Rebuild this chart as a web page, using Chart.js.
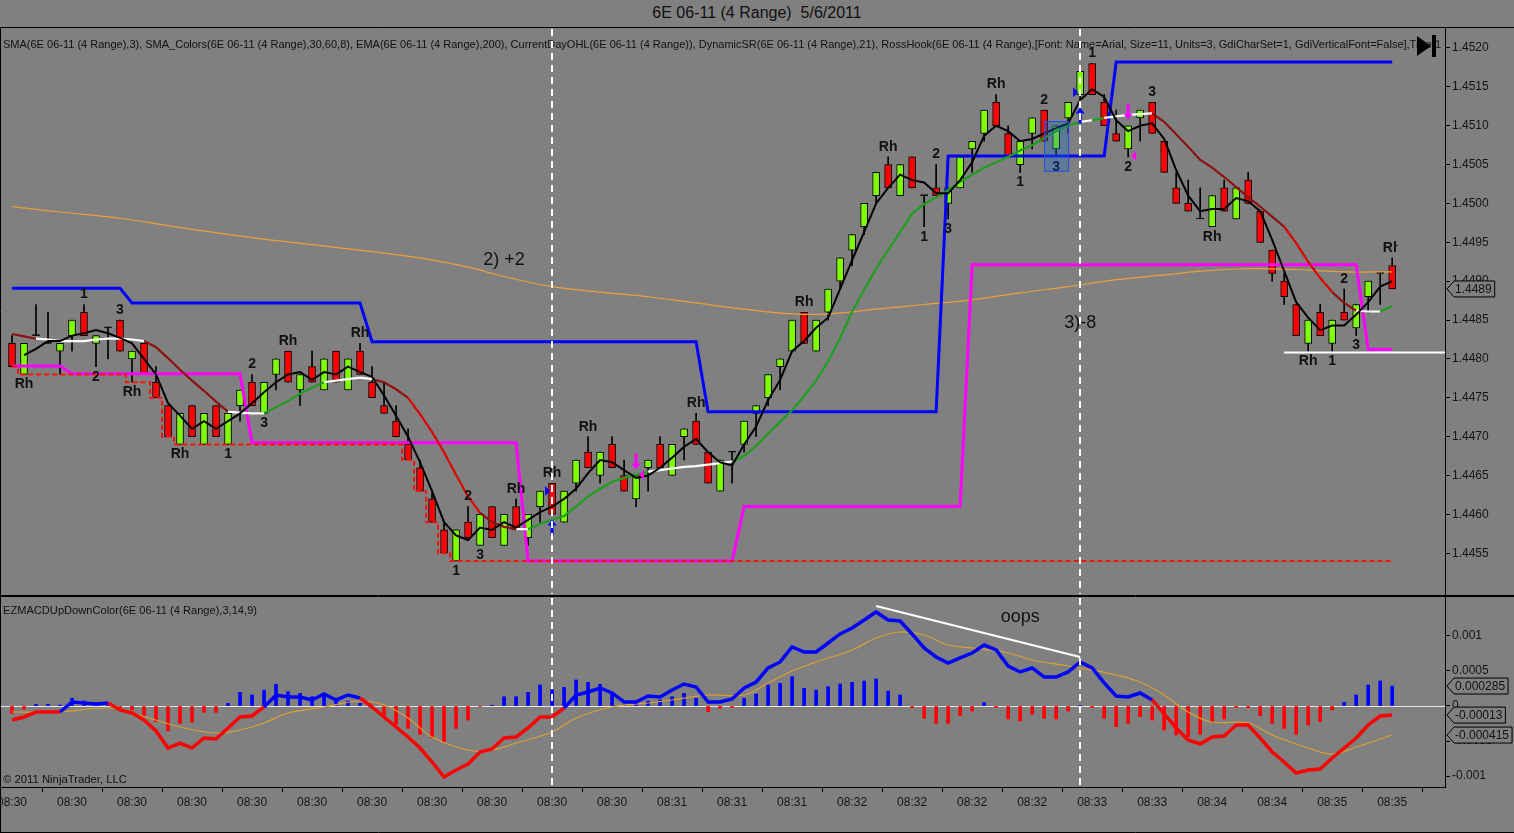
<!DOCTYPE html>
<html>
<head>
<meta charset="utf-8">
<title>6E 06-11 (4 Range) 5/6/2011</title>
<script src="https://cdn.jsdelivr.net/npm/chart.js@4.4.1/dist/chart.umd.min.js"></script>
<style>
	html, body { margin: 0; padding: 0; background: #808080; }
	#wrap { position: relative; width: 1514px; height: 833px; overflow: hidden; background: #808080; font-family: "Liberation Sans", Arial, sans-serif; }
	#title { position: absolute; left: 0; top: 0; width: 1514px; height: 27px; line-height: 25px; text-align: center; font-size: 16px; color: #111; white-space: pre; }
	#pricePane { position: absolute; left: 0; top: 27px; width: 1514px; height: 569px; }
	#macdPane { position: absolute; left: 0; top: 596px; width: 1514px; height: 237px; }
</style>
</head>
<body>
<div id="wrap">
	<div id="title">6E 06-11 (4 Range)  5/6/2011</div>
	<div id="pricePane"><canvas id="priceChart"></canvas></div>
	<div id="macdPane"><canvas id="macdChart"></canvas></div>
</div>
<script>
// ---- range bars (4 ticks), one entry per bar ----
const opens = [
	1.4482, 1.4478, 1.4483, 1.4482, 1.4481, 1.4483, 1.4486, 1.4482, 1.4484, 1.4485,
	1.4480, 1.4482, 1.4477, 1.4474, 1.4469, 1.4474, 1.4469, 1.4474, 1.4469, 1.4474,
	1.4477, 1.4473, 1.4478, 1.4481, 1.4476, 1.4479, 1.4476, 1.4481, 1.4476, 1.4481,
	1.4477, 1.4474, 1.4472, 1.4469, 1.4466, 1.4462, 1.4458, 1.4454, 1.4459, 1.4456,
	1.4461, 1.4456, 1.4461, 1.4457, 1.4461, 1.4464, 1.4459, 1.4464, 1.4468, 1.4465,
	1.4469, 1.4465, 1.4462, 1.4466, 1.4469, 1.4465, 1.4470, 1.4472, 1.4468, 1.4463,
	1.4468, 1.4469, 1.4473, 1.4475, 1.4479, 1.4481, 1.4486, 1.4481, 1.4486, 1.4490,
	1.4494, 1.4497, 1.4501, 1.4505, 1.4501, 1.4506, 1.4501, 1.4502, 1.4500, 1.4502,
	1.4507, 1.4509, 1.4513, 1.4509, 1.4505, 1.4509, 1.4512, 1.4507, 1.4511, 1.4514,
	1.4518, 1.4513, 1.4509, 1.4507, 1.4511, 1.4513, 1.4508, 1.4502, 1.4500, 1.4498,
	1.4497, 1.4502, 1.4498, 1.4503, 1.4499, 1.4494, 1.4490, 1.4487, 1.4482, 1.4486,
	1.4482, 1.4486, 1.4484, 1.4488, 1.4491, 1.4492,
];
const highs = [
	1.4483, 1.4482, 1.4487, 1.4486, 1.4482, 1.4485, 1.4487, 1.4483, 1.4484, 1.4485,
	1.4481, 1.4482, 1.4479, 1.4474, 1.4473, 1.4474, 1.4473, 1.4474, 1.4473, 1.4476,
	1.4478, 1.4477, 1.4480, 1.4481, 1.4478, 1.4481, 1.4480, 1.4481, 1.4480, 1.4482,
	1.4479, 1.4477, 1.4474, 1.4471, 1.4467, 1.4463, 1.4459, 1.4458, 1.4461, 1.4460,
	1.4461, 1.4460, 1.4462, 1.4460, 1.4463, 1.4464, 1.4463, 1.4467, 1.4470, 1.4468,
	1.4470, 1.4467, 1.4465, 1.4467, 1.4470, 1.4469, 1.4471, 1.4473, 1.4468, 1.4467,
	1.4468, 1.4472, 1.4474, 1.4478, 1.4480, 1.4485, 1.4486, 1.4485, 1.4489, 1.4493,
	1.4496, 1.4500, 1.4504, 1.4506, 1.4505, 1.4506, 1.4501, 1.4505, 1.4502, 1.4506,
	1.4508, 1.4512, 1.4514, 1.4510, 1.4508, 1.4511, 1.4512, 1.4510, 1.4513, 1.4517,
	1.4518, 1.4514, 1.4512, 1.4510, 1.4512, 1.4513, 1.4508, 1.4504, 1.4503, 1.4502,
	1.4501, 1.4503, 1.4502, 1.4504, 1.4499, 1.4494, 1.4491, 1.4487, 1.4485, 1.4487,
	1.4485, 1.4489, 1.4487, 1.4490, 1.4491, 1.4493,
];
const lows = [
	1.4479, 1.4478, 1.4483, 1.4482, 1.4478, 1.4481, 1.4483, 1.4479, 1.4480, 1.4481,
	1.4477, 1.4478, 1.4475, 1.4470, 1.4469, 1.4470, 1.4469, 1.4470, 1.4469, 1.4472,
	1.4474, 1.4473, 1.4476, 1.4477, 1.4474, 1.4477, 1.4476, 1.4477, 1.4476, 1.4478,
	1.4475, 1.4473, 1.4470, 1.4467, 1.4463, 1.4459, 1.4455, 1.4454, 1.4457, 1.4456,
	1.4457, 1.4456, 1.4458, 1.4456, 1.4459, 1.4460, 1.4459, 1.4463, 1.4466, 1.4464,
	1.4466, 1.4463, 1.4461, 1.4463, 1.4466, 1.4465, 1.4467, 1.4469, 1.4464, 1.4463,
	1.4464, 1.4468, 1.4470, 1.4474, 1.4476, 1.4481, 1.4482, 1.4481, 1.4485, 1.4489,
	1.4492, 1.4496, 1.4500, 1.4502, 1.4501, 1.4502, 1.4497, 1.4501, 1.4498, 1.4502,
	1.4504, 1.4508, 1.4510, 1.4506, 1.4504, 1.4507, 1.4508, 1.4506, 1.4509, 1.4513,
	1.4514, 1.4510, 1.4508, 1.4506, 1.4508, 1.4509, 1.4504, 1.4500, 1.4499, 1.4498,
	1.4497, 1.4499, 1.4498, 1.4500, 1.4495, 1.4490, 1.4487, 1.4483, 1.4481, 1.4483,
	1.4481, 1.4485, 1.4483, 1.4486, 1.4487, 1.4489,
];
const closes = [
	1.4479, 1.4482, 1.4483, 1.4482, 1.4482, 1.4485, 1.4483, 1.4483, 1.4484, 1.4481,
	1.4481, 1.4478, 1.4475, 1.4470, 1.4473, 1.4470, 1.4473, 1.4470, 1.4473, 1.4476,
	1.4474, 1.4477, 1.4480, 1.4477, 1.4478, 1.4477, 1.4480, 1.4477, 1.4480, 1.4478,
	1.4475, 1.4473, 1.4470, 1.4467, 1.4463, 1.4459, 1.4455, 1.4458, 1.4457, 1.4460,
	1.4457, 1.4460, 1.4458, 1.4460, 1.4463, 1.4460, 1.4463, 1.4467, 1.4466, 1.4468,
	1.4466, 1.4463, 1.4465, 1.4467, 1.4466, 1.4469, 1.4471, 1.4469, 1.4464, 1.4467,
	1.4468, 1.4472, 1.4474, 1.4478, 1.4480, 1.4485, 1.4482, 1.4485, 1.4489, 1.4493,
	1.4496, 1.4500, 1.4504, 1.4502, 1.4505, 1.4502, 1.4501, 1.4501, 1.4502, 1.4506,
	1.4508, 1.4512, 1.4510, 1.4506, 1.4508, 1.4511, 1.4508, 1.4510, 1.4513, 1.4517,
	1.4514, 1.4510, 1.4508, 1.4510, 1.4512, 1.4509, 1.4504, 1.4500, 1.4499, 1.4498,
	1.4501, 1.4499, 1.4502, 1.4500, 1.4495, 1.4491, 1.4488, 1.4483, 1.4485, 1.4483,
	1.4485, 1.4485, 1.4487, 1.4490, 1.4491, 1.4489,
];

// SMA(3) black line
const sma3 = [
	null, 1.44805, 1.44813, 1.44823, 1.44823, 1.4483, 1.44833, 1.44837, 1.44833, 1.44827,
	1.4482, 1.448, 1.4478, 1.44743, 1.44727, 1.4471, 1.4472, 1.4471, 1.4472, 1.4473,
	1.44743, 1.44757, 1.4477, 1.4478, 1.44783, 1.44773, 1.44783, 1.4478, 1.4479, 1.44783,
	1.44777, 1.44753, 1.44727, 1.447, 1.44667, 1.4463, 1.4459, 1.44573, 1.44567, 1.44583,
	1.4458, 1.4459, 1.44583, 1.44593, 1.44603, 1.4461, 1.4462, 1.44633, 1.44653, 1.4467,
	1.44667, 1.44657, 1.44647, 1.4465, 1.4466, 1.44673, 1.44687, 1.44697, 1.4468, 1.44667,
	1.44663, 1.4469, 1.44713, 1.44747, 1.44773, 1.4481, 1.44823, 1.4484, 1.44853, 1.4489,
	1.44927, 1.44963, 1.45, 1.4502, 1.45037, 1.4503, 1.45027, 1.45013, 1.45013, 1.4503,
	1.45053, 1.45087, 1.451, 1.45093, 1.4508, 1.45083, 1.4509, 1.45097, 1.45103, 1.45133,
	1.45147, 1.45137, 1.45107, 1.45093, 1.451, 1.45103, 1.45083, 1.45043, 1.4501, 1.4499,
	1.44993, 1.44993, 1.45007, 1.45003, 1.4499, 1.44953, 1.44913, 1.44873, 1.44853, 1.44837,
	1.44843, 1.44843, 1.44857, 1.44873, 1.44893, 1.449,
];

// SMA_Colors line (white flat, green up, red down)
const smaColors = [
	1.44832, 1.44829, 1.44826, 1.44825, 1.44823, 1.44823, 1.44823, 1.44825, 1.44826, 1.44826,
	1.44825, 1.44823, 1.44815, 1.44801, 1.44786, 1.44772, 1.44759, 1.44745, 1.44732, 1.44731,
	1.4473, 1.4473, 1.44738, 1.44746, 1.44755, 1.44763, 1.4477, 1.44772, 1.44774, 1.44776,
	1.44774, 1.4477, 1.44761, 1.4475, 1.44729, 1.44706, 1.4468, 1.44651, 1.44623, 1.44602,
	1.4459, 1.44584, 1.44581, 1.44581, 1.44588, 1.44593, 1.44598, 1.4461, 1.44623, 1.44633,
	1.44642, 1.44647, 1.44651, 1.44655, 1.44657, 1.44659, 1.44661, 1.44662, 1.44664, 1.44666,
	1.44668, 1.44675, 1.44688, 1.44704, 1.44719, 1.44734, 1.44752, 1.44772, 1.44797, 1.44827,
	1.44861, 1.44889, 1.44916, 1.4494, 1.44963, 1.44987, 1.44999, 1.45008, 1.45017, 1.45028,
	1.45037, 1.45046, 1.45053, 1.4506, 1.45068, 1.45075, 1.45084, 1.45093, 1.451, 1.45105,
	1.45107, 1.4511, 1.45112, 1.45114, 1.45115, 1.45116, 1.45105, 1.45089, 1.45073, 1.45056,
	1.45046, 1.45034, 1.45021, 1.45008, 1.44996, 1.44983, 1.4497, 1.44949, 1.44925, 1.44904,
	1.44886, 1.44872, 1.44862, 1.44861, 1.44861, 1.44868,
];

// EMA(200), read at these bars
const emaBars = [0, 4, 9, 14, 20, 25, 30, 34, 38, 41, 45, 49, 53, 57, 61, 65, 68, 72, 76, 80, 84, 88, 92, 96, 99, 103, 107, 111, 115];
const emaVals = [
	1.44996, 1.44989, 1.44981, 1.44969, 1.44956, 1.44947, 1.44938, 1.4493, 1.44918, 1.44906,
	1.44893, 1.44886, 1.4488, 1.44872, 1.44864, 1.44858, 1.44858, 1.44864, 1.4487, 1.44876,
	1.44885, 1.44893, 1.44902, 1.44908, 1.44913, 1.44916, 1.44915, 1.44912, 1.44912,
];

// DynamicSR resistance (blue) and support (magenta), vertices
const resBars = [0, 9, 10, 29, 30, 57, 58, 77, 78, 91, 92, 115];
const resVals = [1.44891, 1.44891, 1.44872, 1.44872, 1.44822, 1.44822, 1.44732, 1.44732, 1.45061, 1.45061, 1.45182, 1.45182];
const supBars = [0, 4, 5, 19, 20, 42, 43, 60, 61, 79, 80, 112, 113, 115];
const supVals = [1.44791, 1.44791, 1.44781, 1.44781, 1.44692, 1.44692, 1.4454, 1.4454, 1.4461, 1.4461, 1.44921, 1.44921, 1.44812, 1.44812];

// CurrentDayOHL low (red dashed), per bar
const dayLow = [
	1.4479, 1.4478, 1.4478, 1.4478, 1.4478, 1.4478, 1.4478, 1.4478, 1.4478, 1.4478,
	1.4477, 1.4477, 1.4475, 1.4470, 1.4469, 1.4469, 1.4469, 1.4469, 1.4469, 1.4469,
	1.4469, 1.4469, 1.4469, 1.4469, 1.4469, 1.4469, 1.4469, 1.4469, 1.4469, 1.4469,
	1.4469, 1.4469, 1.4469, 1.4467, 1.4463, 1.4459, 1.4455, 1.4454, 1.4454, 1.4454,
	1.4454, 1.4454, 1.4454, 1.4454, 1.4454, 1.4454, 1.4454, 1.4454, 1.4454, 1.4454,
	1.4454, 1.4454, 1.4454, 1.4454, 1.4454, 1.4454, 1.4454, 1.4454, 1.4454, 1.4454,
	1.4454, 1.4454, 1.4454, 1.4454, 1.4454, 1.4454, 1.4454, 1.4454, 1.4454, 1.4454,
	1.4454, 1.4454, 1.4454, 1.4454, 1.4454, 1.4454, 1.4454, 1.4454, 1.4454, 1.4454,
	1.4454, 1.4454, 1.4454, 1.4454, 1.4454, 1.4454, 1.4454, 1.4454, 1.4454, 1.4454,
	1.4454, 1.4454, 1.4454, 1.4454, 1.4454, 1.4454, 1.4454, 1.4454, 1.4454, 1.4454,
	1.4454, 1.4454, 1.4454, 1.4454, 1.4454, 1.4454, 1.4454, 1.4454, 1.4454, 1.4454,
	1.4454, 1.4454, 1.4454, 1.4454, 1.4454, 1.4454,
];
const lateLevelFrom = 106;
const lateLevel = 1.44809;

// EZMACD(3,14,9)
const macdLine = [
	-0.0002, -0.000157, -0.000086, -0.000086, -0.000086, 0.000057, 0.000043, 0.000029, 0.000043, -0.000057,
	-0.0001, -0.0002, -0.000357, -0.0006, -0.00053, -0.0006, -0.000457, -0.00047, -0.000314, -0.000157,
	-0.000143, -0.000014, 0.000157, 0.000129, 0.000129, 0.000086, 0.000171, 0.000086, 0.000157, 0.000114,
	-0.000014, -0.000157, -0.0003, -0.000443, -0.0006, -0.0008, -0.001014, -0.000914, -0.000829, -0.000657,
	-0.000614, -0.000457, -0.000443, -0.000314, -0.000157, -0.000157, -0.000029, 0.000157, 0.0002, 0.000257,
	0.000186, 0.000057, 0.000057, 0.000143, 0.000129, 0.000229, 0.000314, 0.000271, 0.000057, 0.000057,
	0.0001, 0.000257, 0.000343, 0.000543, 0.000629, 0.000843, 0.000771, 0.000771, 0.0009, 0.001029,
	0.001114, 0.001229, 0.001343, 0.001229, 0.001214, 0.001029, 0.000829, 0.0007, 0.000614, 0.000686,
	0.000757, 0.000871, 0.0008, 0.000571, 0.000486, 0.000543, 0.000414, 0.000414, 0.000486, 0.000629,
	0.000543, 0.000329, 0.000143, 0.000129, 0.000186, 0.000086, -0.000114, -0.000314, -0.000486, -0.000543,
	-0.000443, -0.000429, -0.000271, -0.000271, -0.000457, -0.000657, -0.0008, -0.000957, -0.000914, -0.0009,
	-0.000743, -0.0006, -0.000457, -0.000271, -0.000143, -0.00013,
];
const macdHist = [
	-0.000105, -0.000043, 0.000024, 0.000024, 0.000014, 0.00011, 0.000071, 0.00002, 0.000052, -0.000024,
	-0.000057, -0.000138, -0.000224, -0.000357, -0.000248, -0.000233, -0.00009, -0.00009, 0.000038, 0.000195,
	0.000157, 0.000228, 0.00031, 0.000205, 0.00018, 0.000133, 0.000157, 0.0001, 0.000071, 0.000038,
	-0.000033, -0.000138, -0.000262, -0.000319, -0.000405, -0.000452, -0.000509, -0.000319, -0.0002, -0.000005,
	0.00001, 0.000133, 0.000133, 0.000195, 0.0003, 0.00023, 0.000267, 0.000371, 0.000338, 0.00031,
	0.000195, 0.000014, 0.000071, 0.000071, 0.000086, 0.000133, 0.00018, 0.00011, -0.00008, -0.000033,
	-0.000024, 0.00011, 0.000171, 0.0003, 0.000324, 0.000419, 0.000252, 0.000228, 0.000276, 0.000314,
	0.000338, 0.000357, 0.000386, 0.000214, 0.000157, -0.000024, -0.000176, -0.000248, -0.000248, -0.000138,
	-0.000071, 0.000048, -0.000024, -0.000186, -0.000214, -0.000119, -0.000176, -0.000186, -0.000071, 0.000005,
	-0.000024, -0.000176, -0.000295, -0.000248, -0.000152, -0.0002, -0.000343, -0.000414, -0.000438, -0.000405,
	-0.000224, -0.000186, -0.000024, -0.000024, -0.000138, -0.000248, -0.000319, -0.000405, -0.000271, -0.000224,
	-0.000057, 0.000052, 0.000157, 0.0003, 0.000357, 0.000285,
];
const signalBars = [0, 4, 8, 10, 14, 17, 19, 21, 23, 26, 29, 31, 33, 35, 38, 40, 42, 45, 47, 50, 53, 55, 58, 61, 63, 65, 67, 70, 72, 74, 76, 78, 80, 83, 85, 88, 92, 94, 96, 98, 100, 103, 105, 108, 110, 112, 115];
const signalVals = [
	-0.000086, -0.000086, -0.000029, -0.0001, -0.0003, -0.000386, -0.000343, -0.000243, -0.0001, -0.000014,
	0.000071, 0.000014, -0.000171, -0.000443, -0.000629, -0.000629, -0.000529, -0.000371, -0.000171, -0.000014,
	0.000043, 0.000086, 0.000157, 0.000157, 0.000329, 0.0005, 0.000629, 0.0008, 0.000971, 0.001057,
	0.001014, 0.000871, 0.000829, 0.000757, 0.000657, 0.000571, 0.000443, 0.000343, 0.000157, -0.000086,
	-0.000229, -0.000243, -0.000414, -0.0006, -0.000686, -0.000586, -0.000415,
];

// axes
const tickBars = [0, 5, 10, 15, 20, 25, 30, 35, 40, 45, 50, 55, 60, 65, 70, 75, 80, 85, 90, 95, 100, 105, 110, 115];
const timeLabels = [
	"08:30", "08:30", "08:30", "08:30", "08:30", "08:30", "08:30", "08:30", "08:30", "08:30", "08:30",
	"08:31", "08:31", "08:31", "08:32", "08:32", "08:32", "08:32", "08:33", "08:33", "08:34", "08:34", "08:35", "08:35",
];
const priceTicks = [1.4455, 1.446, 1.4465, 1.447, 1.4475, 1.448, 1.4485, 1.449, 1.4495, 1.45, 1.4505, 1.451, 1.4515, 1.452];
const macdTicks = [-0.001, -0.0005, 0, 0.0005, 0.001];

// RossHook marks: [bar, text, above/below]
const hookLabels = [
	[1, "Rh", "b"], [6, "1", "a"], [7, "2", "b"], [9, "3", "a"], [10, "Rh", "b"], [14, "Rh", "b"],
	[18, "1", "b"], [20, "2", "a"], [21, "3", "b"], [23, "Rh", "a"], [29, "Rh", "a"], [37, "1", "b"],
	[38, "2", "a"], [39, "3", "b"], [42, "Rh", "a"], [45, "Rh", "a"], [48, "Rh", "a"], [57, "Rh", "a"],
	[66, "Rh", "a"], [73, "Rh", "a"], [76, "1", "b"], [77, "2", "a"], [78, "3", "b"], [82, "Rh", "a"],
	[84, "1", "b"], [86, "2", "a"], [87, "3", "b"], [90, "1", "a"], [93, "2", "b"], [95, "3", "a"],
	[100, "Rh", "b"], [108, "Rh", "b"], [110, "1", "b"], [111, "2", "a"], [112, "3", "b"], [115, "Rh", "a"],
];
const entryArrows = [[45, "up"], [89, "up"], [52, "down"], [93, "down"]];
const entryFlags = [[45, 1.4463, "right"], [89, 1.45143, "right"], [52, 1.44651, "left"], [93, 1.45061, "left"]];
const hookBox = { from: 86, to: 88, top: 1.45106, bottom: 1.45042 };
const tradeNotes = [[41, 1.44927, "2) +2"], [89, 1.44846, "3)-8"]];
const sessionMarks = [45, 89];
const divergence = { from: 72, to: 89, v0: 0.001429, v1: 0.0007 };

const FONT = '"Liberation Sans", Arial, sans-serif';
const UP = "#80ff00";
const DOWN = "#ff0000";
const series = (vals) => vals.map((v, i) => ({ x: i, y: v }));
const points = (bars, vals) => bars.map((b, k) => ({ x: b, y: vals[k] }));
const barIdx = closes.map((c, i) => i);

Chart.defaults.font.family = FONT;
Chart.defaults.color = "#111";

function fitText(ctx, text, x, y, width) {
	const w = ctx.measureText(text).width;
	ctx.save();
	ctx.translate(x, y);
	ctx.scale(width / w, 1);
	ctx.fillText(text, 0, 0);
	ctx.restore();
}

function valueBox(ctx, x, y, text) {
	ctx.font = "12px " + FONT;
	const w = ctx.measureText(text).width;
	ctx.beginPath();
	ctx.moveTo(x, y);
	ctx.lineTo(x + 7, y - 8);
	ctx.lineTo(x + w + 11, y - 8);
	ctx.lineTo(x + w + 11, y + 8);
	ctx.lineTo(x + 7, y + 8);
	ctx.closePath();
	ctx.fillStyle = "#808080";
	ctx.fill();
	ctx.strokeStyle = "#000";
	ctx.lineWidth = 1;
	ctx.stroke();
	ctx.fillStyle = "#111";
	ctx.textAlign = "left";
	ctx.textBaseline = "middle";
	ctx.fillText(text, x + 8, y + 1);
}

function dashedMarks(chart) {
	const { ctx, chartArea: a, scales: { x } } = chart;
	ctx.save();
	ctx.strokeStyle = "#fff";
	ctx.lineWidth = 2;
	ctx.setLineDash([7, 5]);
	sessionMarks.forEach((b) => {
		const xp = Math.round(x.getPixelForValue(b));
		ctx.beginPath();
		ctx.moveTo(xp, a.top + 2);
		ctx.lineTo(xp, a.bottom - 2);
		ctx.stroke();
	});
	ctx.restore();
}

function hLine(ctx, x0, x1, y) {
	ctx.beginPath();
	ctx.moveTo(x0, y + 0.5);
	ctx.lineTo(x1, y + 0.5);
	ctx.stroke();
}

const priceDecor = {
	id: "priceDecor",
	afterDraw(chart) {
		const { ctx, chartArea: a, scales: { x, y } } = chart;
		ctx.save();

		// late support level (white)
		ctx.strokeStyle = "#fff";
		ctx.lineWidth = 2;
		hLine(ctx, x.getPixelForValue(lateLevelFrom), a.right, Math.round(y.getPixelForValue(lateLevel)));

		// hook box
		const bx0 = x.getPixelForValue(hookBox.from);
		const bx1 = x.getPixelForValue(hookBox.to);
		const by0 = y.getPixelForValue(hookBox.top);
		const by1 = y.getPixelForValue(hookBox.bottom);
		ctx.fillStyle = "rgba(30, 110, 200, 0.35)";
		ctx.fillRect(bx0, by0, bx1 - bx0, by1 - by0);
		ctx.strokeStyle = "#1f4fe0";
		ctx.lineWidth = 1;
		ctx.strokeRect(bx0 + 0.5, by0 + 0.5, bx1 - bx0, by1 - by0);

		// entry arrows
		entryArrows.forEach(([b, dir]) => {
			const xp = x.getPixelForValue(b);
			if (dir === "up") {
				const tip = y.getPixelForValue(lows[b]) + 5;
				ctx.fillStyle = "#0000ff";
				ctx.fillRect(xp - 1.5, tip + 5, 3, 11);
				ctx.beginPath();
				ctx.moveTo(xp - 4.5, tip + 6);
				ctx.lineTo(xp + 4.5, tip + 6);
				ctx.lineTo(xp, tip);
				ctx.fill();
			} else {
				const tip = y.getPixelForValue(highs[b]) - 6;
				ctx.fillStyle = "#ff00ff";
				ctx.fillRect(xp - 1.5, tip - 16, 3, 11);
				ctx.beginPath();
				ctx.moveTo(xp - 4.5, tip - 6);
				ctx.lineTo(xp + 4.5, tip - 6);
				ctx.lineTo(xp, tip);
				ctx.fill();
			}
		});
		entryFlags.forEach(([b, p, dir]) => {
			const xp = x.getPixelForValue(b);
			const yp = y.getPixelForValue(p);
			ctx.beginPath();
			if (dir === "right") {
				ctx.fillStyle = "#0000ff";
				ctx.moveTo(xp - 7, yp - 5);
				ctx.lineTo(xp - 7, yp + 5);
				ctx.lineTo(xp - 2, yp);
			} else {
				ctx.fillStyle = "#ff00ff";
				ctx.moveTo(xp + 8, yp - 5);
				ctx.lineTo(xp + 8, yp + 5);
				ctx.lineTo(xp + 3, yp);
			}
			ctx.fill();
		});

		// RossHook labels
		ctx.save();
		ctx.beginPath();
		ctx.rect(a.left, a.top, x.getPixelForValue(115.45) - a.left, a.bottom - a.top);
		ctx.clip();
		ctx.font = "bold 14px " + FONT;
		ctx.textAlign = "center";
		ctx.textBaseline = "middle";
		hookLabels.forEach(([b, t, pos]) => {
			const xp = x.getPixelForValue(b);
			const yp = pos === "a" ? y.getPixelForValue(highs[b]) - 10 : y.getPixelForValue(lows[b]) + 10;
			ctx.fillStyle = b === hookBox.from + 1 ? "#10205a" : "#111";
			ctx.fillText(t, xp, yp);
		});
		ctx.restore();

		// trade notes
		ctx.font = "18px " + FONT;
		ctx.fillStyle = "#111";
		ctx.textAlign = "center";
		ctx.textBaseline = "middle";
		tradeNotes.forEach(([b, p, t]) => ctx.fillText(t, x.getPixelForValue(b), y.getPixelForValue(p)));

		// indicator caption
		ctx.font = "11px " + FONT;
		ctx.textAlign = "left";
		ctx.textBaseline = "middle";
		ctx.fillStyle = "#111";
		fitText(ctx, "SMA(6E 06-11 (4 Range),3), SMA_Colors(6E 06-11 (4 Range),30,60,8), EMA(6E 06-11 (4 Range),200), CurrentDayOHL(6E 06-11 (4 Range)), DynamicSR(6E 06-11 (4 Range),21), RossHook(6E 06-11 (4 Range),[Font: Name=Arial, Size=11, Units=3, GdiCharSet=1, GdiVerticalFont=False],True,1", 3, a.top + 18, 1438);

		ctx.restore();
		dashedMarks(chart);

		ctx.save();
		// play-to-end icon
		ctx.fillStyle = "#000";
		ctx.beginPath();
		ctx.moveTo(a.right - 28, a.top + 9);
		ctx.lineTo(a.right - 28, a.top + 29);
		ctx.lineTo(a.right - 14, a.top + 19);
		ctx.fill();
		ctx.fillRect(a.right - 13, a.top + 8, 4, 22);

		// frame
		ctx.strokeStyle = "#000";
		ctx.lineWidth = 1;
		hLine(ctx, 0, chart.width, 0);
		hLine(ctx, 0, chart.width, chart.height - 1);
		ctx.beginPath();
		ctx.moveTo(0.5, 0);
		ctx.lineTo(0.5, chart.height);
		ctx.stroke();

		// last price box
		valueBox(ctx, a.right + 2, y.getPixelForValue(closes[closes.length - 1]), closes[closes.length - 1].toFixed(4));
		ctx.restore();
	},
};

const fmtSmall = (v) => String(Number(v.toFixed(6)));

const macdDecor = {
	id: "macdDecor",
	beforeDatasetsDraw(chart) {
		const { ctx, chartArea: a, scales: { y } } = chart;
		ctx.save();
		ctx.strokeStyle = "#e6e6e6";
		ctx.lineWidth = 1;
		hLine(ctx, a.left, a.right, Math.round(y.getPixelForValue(0)));
		ctx.restore();
	},
	afterDraw(chart) {
		const { ctx, chartArea: a, scales: { x, y } } = chart;
		ctx.save();
		// divergence line
		ctx.strokeStyle = "#fff";
		ctx.lineWidth = 2;
		ctx.beginPath();
		ctx.moveTo(x.getPixelForValue(divergence.from), y.getPixelForValue(divergence.v0));
		ctx.lineTo(x.getPixelForValue(divergence.to), y.getPixelForValue(divergence.v1));
		ctx.stroke();

		ctx.fillStyle = "#111";
		ctx.font = "18px " + FONT;
		ctx.textAlign = "center";
		ctx.textBaseline = "middle";
		ctx.fillText("oops", x.getPixelForValue(84), y.getPixelForValue(0.00127));

		ctx.font = "11px " + FONT;
		ctx.textAlign = "left";
		fitText(ctx, "EZMACDUpDownColor(6E 06-11 (4 Range),3,14,9)", 3, a.top + 15, 254);
		fitText(ctx, "\u00a9 2011 NinjaTrader, LLC", 3, a.bottom - 7, 124);
		ctx.restore();

		dashedMarks(chart);

		ctx.save();
		ctx.strokeStyle = "#000";
		ctx.lineWidth = 1;
		hLine(ctx, 0, chart.width, 0);
		hLine(ctx, 0, chart.width, chart.height - 1);
		ctx.beginPath();
		ctx.moveTo(0.5, 0);
		ctx.lineTo(0.5, chart.height);
		ctx.stroke();

		const last = macdLine.length - 1;
		valueBox(ctx, a.right + 2, y.getPixelForValue(macdHist[last]), fmtSmall(macdHist[last]));
		valueBox(ctx, a.right + 2, y.getPixelForValue(macdLine[last]), fmtSmall(macdLine[last]));
		valueBox(ctx, a.right + 2, y.getPixelForValue(signalVals[signalVals.length - 1]), fmtSmall(signalVals[signalVals.length - 1]));
		ctx.restore();
	},
};

const xRange = { type: "linear", min: -1, max: 119.4, offset: false };

const priceChart = new Chart(document.getElementById("priceChart"), {
	type: "bar",
	data: {
		datasets: [
			{
				label: "wick",
				data: barIdx.map((i) => ({ x: i, y: [lows[i], highs[i]] })),
				backgroundColor: "#000",
				borderWidth: 0,
				barThickness: 1,
				grouped: false,
				order: 10,
			},
			{
				label: "body",
				data: barIdx.map((i) => ({ x: i, y: [opens[i], closes[i]] })),
				backgroundColor: (c) => {
					const i = c.dataIndex;
					if (i === undefined) return UP;
					return closes[i] > opens[i] ? UP : closes[i] < opens[i] ? DOWN : "#000";
				},
				borderColor: "#000",
				borderWidth: 1,
				borderSkipped: false,
				barThickness: 7,
				minBarLength: 1,
				grouped: false,
				order: 9,
			},
			{
				type: "line",
				label: "EMA 200",
				data: points(emaBars, emaVals),
				borderColor: "#eb9f3c",
				borderWidth: 1.2,
				pointRadius: 0,
				tension: 0.4,
				order: 8,
			},
			{
				type: "line",
				label: "DynamicSR high",
				data: points(resBars, resVals),
				borderColor: "#0000ff",
				borderWidth: 3,
				pointRadius: 0,
				order: 7,
			},
			{
				type: "line",
				label: "DynamicSR low",
				data: points(supBars, supVals),
				borderColor: "#ff00ff",
				borderWidth: 3,
				pointRadius: 0,
				order: 6,
			},
			{
				type: "line",
				label: "Day low",
				data: series(dayLow),
				borderColor: "#ff1010",
				borderWidth: 2,
				borderDash: [5, 3],
				stepped: "middle",
				pointRadius: 0,
				order: 5,
			},
			{
				type: "line",
				label: "SMA_Colors",
				data: series(smaColors),
				borderWidth: 2.2,
				pointRadius: 0,
				borderColor: "#fff",
				segment: {
					borderColor: (c) => {
						const d = c.p1.parsed.y - c.p0.parsed.y;
						if (d > 0.000025) return "#1e9e1e";
						if (d < -0.000175) return "#dd0000";
						if (d < -0.000025) return "#8b1212";
						return "#ffffff";
					},
				},
				order: 4,
			},
			{
				type: "line",
				label: "SMA 3",
				data: series(sma3),
				borderColor: "#000",
				borderWidth: 2,
				pointRadius: 0,
				order: 3,
			},
		],
	},
	options: {
		responsive: true,
		maintainAspectRatio: false,
		animation: false,
		events: [],
		layout: { padding: 0 },
		plugins: { legend: { display: false }, tooltip: { enabled: false } },
		scales: {
			x: { ...xRange, display: false },
			y: {
				position: "right",
				min: 1.44495,
				max: 1.45227,
				afterBuildTicks: (s) => { s.ticks = priceTicks.map((v) => ({ value: v })); },
				afterFit: (s) => { s.width = 69; s.paddingTop = 0; s.paddingBottom = 0; },
				ticks: {
					callback: (v) => Number(v).toFixed(4),
					font: { size: 12 },
					color: "#151515",
					padding: 2,
				},
				grid: { drawOnChartArea: false, drawTicks: true, tickLength: 5, color: "#000" },
				border: { color: "#000" },
			},
		},
	},
	plugins: [priceDecor],
});

const macdChart = new Chart(document.getElementById("macdChart"), {
	type: "bar",
	data: {
		datasets: [
			{
				label: "Diff",
				data: series(macdHist),
				backgroundColor: (c) => {
					const v = c.raw ? c.raw.y : 0;
					return v >= 0 ? "#0000ff" : "#ff0000";
				},
				borderWidth: 0,
				barThickness: 3,
				grouped: false,
				order: 3,
			},
			{
				type: "line",
				label: "Avg",
				data: points(signalBars, signalVals),
				borderColor: "#d9a033",
				borderWidth: 1.2,
				pointRadius: 0,
				tension: 0.4,
				order: 2,
			},
			{
				type: "line",
				label: "MACD",
				data: series(macdLine),
				borderWidth: 3.5,
				borderColor: "#0000ff",
				pointRadius: 0,
				segment: {
					borderColor: (c) => (c.p1.parsed.y >= 0 ? "#0000ff" : "#ff0000"),
				},
				order: 1,
			},
		],
	},
	options: {
		responsive: true,
		maintainAspectRatio: false,
		animation: false,
		events: [],
		layout: { padding: 0 },
		plugins: { legend: { display: false }, tooltip: { enabled: false } },
		scales: {
			x: {
				...xRange,
				position: "bottom",
				afterBuildTicks: (s) => { s.ticks = tickBars.map((v) => ({ value: v })); },
				afterFit: (s) => { s.height = 46; s.paddingLeft = 0; s.paddingRight = 0; },
				ticks: {
					autoSkip: false,
					maxRotation: 0,
					callback: (v, i) => timeLabels[i],
					font: { size: 12 },
					color: "#151515",
					padding: 3,
				},
				grid: { drawOnChartArea: false, drawTicks: true, tickLength: 5, color: "#000" },
				border: { color: "#000" },
			},
			y: {
				position: "right",
				min: -0.001157,
				max: 0.001571,
				afterBuildTicks: (s) => { s.ticks = macdTicks.map((v) => ({ value: v })); },
				afterFit: (s) => { s.width = 69; s.paddingTop = 0; s.paddingBottom = 0; },
				ticks: {
					callback: (v) => fmtSmall(Number(v)),
					font: { size: 12 },
					color: "#151515",
					padding: 2,
				},
				grid: { drawOnChartArea: false, drawTicks: true, tickLength: 5, color: "#000" },
				border: { color: "#000" },
			},
		},
	},
	plugins: [macdDecor],
});
</script>
</body>
</html>
